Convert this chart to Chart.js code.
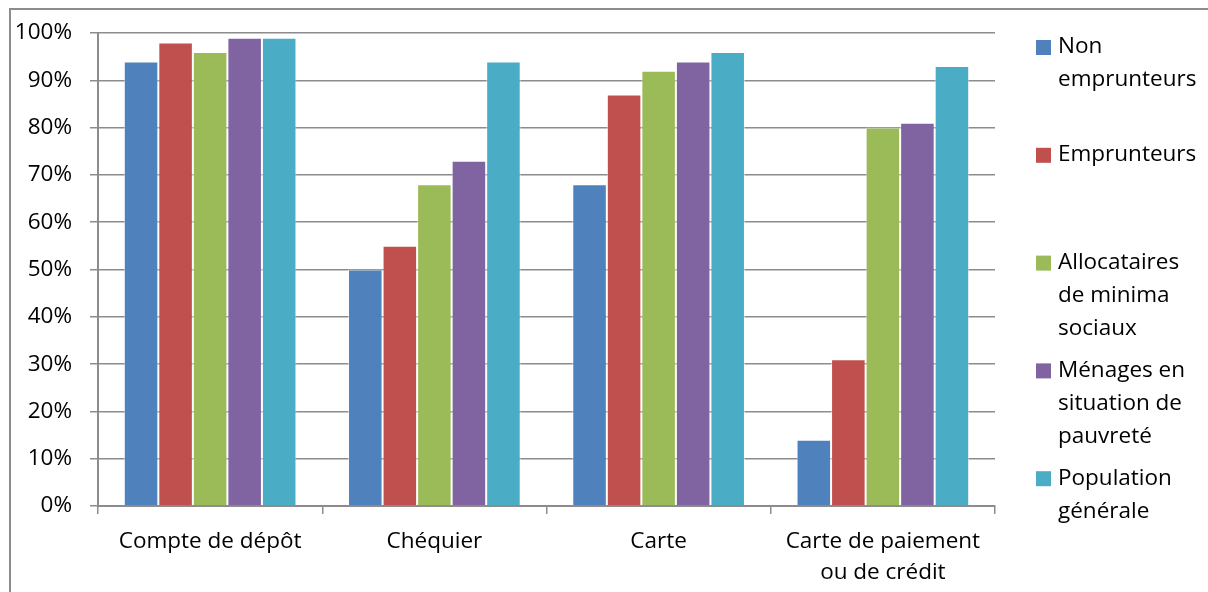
<!DOCTYPE html>
<html>
<head>
<meta charset="utf-8">
<script src="https://cdn.jsdelivr.net/npm/chart.js@4/dist/chart.umd.min.js"></script>
<style>
  html, body { margin: 0; padding: 0; background: #fff; }
  #wrap { width: 1208px; height: 592px; position: relative; }
</style>
</head>
<body>
<div id="wrap"><canvas id="chart" width="1208" height="592"></canvas></div>
<script>
// categories (x axis)
const categories = ['Compte de dépôt', 'Chéquier', 'Carte', ['Carte de paiement', 'ou de crédit']];

// series
const seriesNames = ['Non emprunteurs', 'Emprunteurs', 'Allocataires de minima sociaux', 'Ménages en situation de pauvreté', 'Population générale'];
const legendLines = [
  ['Non', 'emprunteurs'],
  ['Emprunteurs'],
  ['Allocataires', 'de minima', 'sociaux'],
  ['Ménages en', 'situation de', 'pauvreté'],
  ['Population', 'générale']
];
const nonEmprunteurs = [94, 50, 68, 14];
const emprunteurs = [98, 55, 87, 31];
const allocataires = [96, 68, 92, 80];
const menagesPauvrete = [99, 73, 94, 81];
const populationGenerale = [99, 94, 96, 93];

const colors = ['#4F81BD', '#C0504D', '#9BBB59', '#8064A2', '#4BACC6'];
const FONT = '"Open Sans", Calibri, Lato, sans-serif';
const FSIZE = 22.5;

const seriesValues = [nonEmprunteurs, emprunteurs, allocataires, menagesPauvrete, populationGenerale];

// outer frame + wrapped legend, Excel style
const framePlugin = {
  id: 'frame',
  beforeDraw(chart) {
    const ctx = chart.ctx;
    ctx.save();
    ctx.fillStyle = '#fff';
    ctx.fillRect(0, 0, chart.width, chart.height);
    ctx.strokeStyle = '#8c8c8c';
    ctx.lineWidth = 2;
    ctx.strokeRect(10, 9, chart.width + 20, chart.height + 20);
    ctx.restore();
  },
  afterDraw(chart) {
    const ctx = chart.ctx;
    ctx.save();
    ctx.font = FSIZE + 'px ' + FONT;
    ctx.textBaseline = 'middle';
    ctx.textAlign = 'left';
    legendLines.forEach((lines, i) => {
      const y0 = 47 + i * 107.8;
      ctx.fillStyle = colors[i];
      ctx.fillRect(1036, y0 - 7, 15, 15);
      ctx.fillStyle = '#000';
      lines.forEach((t, j) => ctx.fillText(t, 1058, y0 + j * 33));
    });
    ctx.restore();
  }
};

new Chart(document.getElementById('chart'), {
  type: 'bar',
  data: {
    labels: categories,
    datasets: seriesNames.map((name, i) => ({
      label: name,
      data: seriesValues[i],
      backgroundColor: colors[i],
      borderColor: 'rgba(255,255,255,0.55)',
      borderWidth: 1,
      barPercentage: 1.0,
      categoryPercentage: 0.77
    }))
  },
  options: {
    responsive: false,
    animation: false,
    layout: { padding: { left: 12, top: 33, right: 213, bottom: 0 } },
    plugins: {
      legend: { display: false },
      tooltip: { enabled: false }
    },
    scales: {
      x: {
        grid: {
          offset: true,
          drawOnChartArea: false,
          drawTicks: true,
          tickLength: 8,
          color: '#8c8c8c',
          lineWidth: 1.5
        },
        border: { color: '#8c8c8c', width: 2 },
        ticks: {
          color: '#000',
          font: { family: FONT, size: FSIZE, lineHeight: 1.38 },
          padding: 12,
          maxRotation: 0,
          autoSkip: false
        },
        afterFit(scale) { scale.height = 86; }
      },
      y: {
        min: 0,
        max: 100,
        grid: {
          color: '#8c8c8c',
          lineWidth: 1.5,
          drawTicks: true,
          tickLength: 8
        },
        border: { color: '#8c8c8c', width: 2 },
        ticks: {
          stepSize: 10,
          color: '#000',
          padding: 18,
          font: { family: FONT, size: FSIZE },
          callback: v => v + '%'
        },
        afterFit(scale) { scale.width = 86; }
      }
    }
  },
  plugins: [framePlugin]
});
</script>
</body>
</html>
